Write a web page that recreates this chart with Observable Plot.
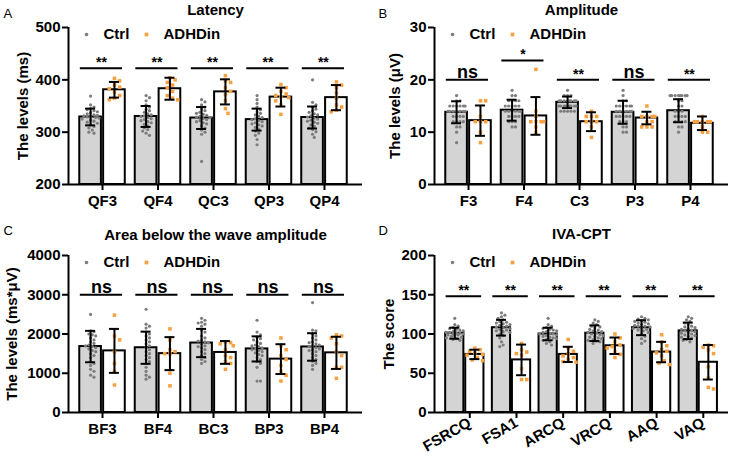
<!DOCTYPE html>
<html><head><meta charset="utf-8">
<script src="https://cdn.jsdelivr.net/npm/d3@7"></script>
<script src="https://cdn.jsdelivr.net/npm/@observablehq/plot@0.6"></script>
<style>
body{margin:0;background:#fff;}
#wrap{position:relative;width:731px;height:460px;overflow:hidden;background:#fff;}
.panel{position:absolute;}
.panel svg{overflow:visible;}
</style></head><body><div id="wrap"></div>
<script>
const groups = ["Ctrl", "ADHDin"];

// ---------- Panel A: Latency ----------
const catsA = ["QF3", "QF4", "QC3", "QP3", "QP4"];
const meanCtrlA = [329, 330, 327, 324, 328];
const sdCtrlA = [16, 20, 21, 21, 21];
const meanAdhdA = [381, 383, 377, 367, 366];
const sdAdhdA = [15, 21, 24, 18, 24];
const sigA = ["**", "**", "**", "**", "**"];
const sigYA = [422, 422, 422, 422, 422];
const yTicksA = [200, 300, 400, 500];
const ptsCtrlA = [
  [369,352,348,345,343,341,339,337,335,333,332,331,330,329,328,327,325,323,321,319,317,314,311,308,304,300,298],
  [370,366,360,352,348,344,341,338,335,333,331,330,328,326,324,322,320,318,315,312,308,305,302,298,294],
  [362,358,352,348,344,341,338,336,334,332,330,329,328,326,324,322,320,318,316,312,308,304,300,296,244],
  [370,362,355,348,343,339,336,333,330,328,326,324,322,320,318,316,314,312,309,306,302,298,294,286,276],
  [400,357,352,348,344,341,338,335,333,331,329,327,325,323,321,319,317,314,311,308,305,301,296,290]
];
const ptsAdhdA = [
  [403,398,390,386,383,377,370,365,362],
  [404,400,395,390,385,378,370,365,362],
  [408,398,395,385,378,372,360,345,336],
  [391,385,378,373,370,368,366,360,352,334],
  [396,390,385,375,365,352,348,342,339]
];

// ---------- Panel B: Amplitude ----------
const catsB = ["F3", "F4", "C3", "P3", "P4"];
const meanCtrlB = [13.8, 14.2, 15.7, 13.8, 14.1];
const sdCtrlB = [2.1, 2.0, 1.1, 2.2, 2.2];
const meanAdhdB = [12.2, 13.1, 12.0, 12.7, 11.7];
const sdAdhdB = [2.9, 3.6, 1.8, 1.2, 1.3];
const sigB = ["ns", "*", "**", "ns", "**"];
const sigYB = [20, 23.7, 20, 20, 20];
const yTicksB = [0, 10, 20, 30];
const ptsCtrlB = [
  [17,16,16,15,15,15,15,15,15,14,14,14,14,14,14,14,13,13,13,13,12,12,12,12,11,11,10,8],
  [18,17,17,16,16,16,16,15,15,15,15,15,14,14,14,14,14,14,13,13,13,13,12,12,12,11,11],
  [18,17,17,17,16,16,16,16,16,16,16,16,15,15,15,15,15,15,15,15,15,14,14,14,14,14],
  [18,17,16,16,15,15,15,15,15,15,14,14,14,14,14,14,13,13,13,13,13,12,12,12,11,11,10,10],
  [17,17,17,17,17,17,17,17,16,16,15,15,14,14,14,13,13,13,13,12,12,12,12,11,11,10]
];
const ptsAdhdB = [
  [16,16,13,12,12,12,10,8],
  [22,14,13,12,12,12,12,11,10],
  [14,13,13,13,12,12,12,11,9],
  [15,13,13,13,13,12,12,11,11,11],
  [13,12,12,12,12,12,11,10,10]
];

// ---------- Panel C: Area below the wave amplitude ----------
const catsC = ["BF3", "BF4", "BC3", "BP3", "BP4"];
const meanCtrlC = [1680, 1650, 1770, 1620, 1670];
const sdCtrlC = [400, 410, 360, 320, 350];
const meanAdhdC = [1570, 1500, 1530, 1360, 1520];
const sdAdhdC = [560, 420, 290, 380, 410];
const sigC = ["ns", "ns", "ns", "ns", "ns"];
const sigYC = [3000, 3000, 3000, 3000, 3000];
const yTicksC = [0, 1000, 2000, 3000, 4000];
const ptsCtrlC = [
  [2500,2080,2060,2000,1980,1950,1900,1850,1800,1760,1720,1700,1680,1650,1620,1580,1550,1500,1450,1400,1300,1250,1200,1100,1050,950,900],
  [2630,2250,2200,2150,2050,2000,1950,1900,1850,1800,1750,1700,1650,1600,1550,1500,1450,1400,1350,1300,1250,1150,1050,950,900,850],
  [2400,2350,2300,2280,2250,2200,2100,2050,1950,1900,1850,1820,1800,1780,1750,1700,1680,1650,1600,1550,1500,1450,1400,1350,1300,1250],
  [2350,2050,1980,1920,1880,1850,1800,1760,1720,1700,1680,1650,1620,1600,1580,1550,1520,1480,1450,1400,1350,1300,1250,1150,800,800],
  [2800,2100,2080,2000,1950,1900,1850,1800,1780,1750,1720,1700,1680,1650,1620,1600,1580,1550,1500,1450,1400,1350,1300,1250,1200,1100]
];
const ptsAdhdC = [
  [2480,1950,1850,1550,1250,1050,700],
  [2130,1850,1600,1550,1500,1500,1000,680],
  [1800,1780,1750,1700,1600,1450,1400,1300,1250,1100],
  [1900,1700,1600,1450,1350,1200,1050,950,800],
  [1980,1950,1900,1750,1550,1450,1150,1150,870]
];

// ---------- Panel D: IVA-CPT ----------
const catsD = ["FSRCQ", "FSA1", "ARCQ", "VRCQ", "AAQ", "VAQ"];
const meanCtrlD = [101, 108, 100, 101, 108, 104];
const sdCtrlD = [7, 10, 8, 10, 9.5, 10.5];
const meanAdhdD = [74, 67, 74, 85, 77, 64];
const sdAdhdD = [6, 19.5, 9.7, 10.5, 13, 22];
const sigD = ["**", "**", "**", "**", "**", "**"];
const sigYD = [148, 148, 148, 148, 148, 148];
const yTicksD = [0, 50, 100, 150, 200];
const ptsCtrlD = [
  [120,112,110,108,107,106,105,104,103,102,102,101,101,100,100,99,99,98,97,96,95,94,93,92],
  [127,124,122,120,118,116,115,114,113,112,111,110,109,108,107,106,105,104,103,102,100,98,95,90,86,84],
  [120,112,110,108,107,106,105,104,103,102,101,100,100,99,98,97,96,95,94,93,92,90,88,86],
  [118,116,114,112,110,109,108,106,105,104,103,102,101,100,99,98,97,96,95,94,93,92,91,90,88],
  [122,120,119,118,117,116,115,114,113,112,111,110,110,109,108,107,106,105,104,102,100,97,94,91,88],
  [122,120,118,116,114,112,110,109,108,107,106,105,104,103,102,101,100,99,98,97,96,95,93,92,90]
];
const ptsAdhdD = [
  [82,80,78,76,74,73,70,67,66],
  [88,80,77,75,73,56,42,42],
  [93,82,78,75,72,70,68,65,64],
  [100,95,90,86,84,82,78,74,70],
  [99,90,85,80,78,76,72,66,63,61],
  [86,85,83,80,75,58,44,32,30]
];

const panels = [
  {letter:"A", title:"Latency", ylabel:"The levels (ms)", cats:catsA, mC:meanCtrlA, sC:sdCtrlA, mA:meanAdhdA, sA:sdAdhdA, pC:ptsCtrlA, pA:ptsAdhdA, sig:sigA, sigY:sigYA, yTicks:yTicksA, left:0, top:0, xDom:[-0.613,4.685], ylabDx:-45.5, titleDy:-17, letterDy:-13.5, letterDx:-65},
  {letter:"B", title:"Amplitude", ylabel:"The levels (\u03bcV)", cats:catsB, mC:meanCtrlB, sC:sdCtrlB, mA:meanAdhdB, sA:sdAdhdB, pC:ptsCtrlB, pA:ptsAdhdB, sig:sigB, sigY:sigYB, yTicks:yTicksB, left:366, top:0, xDom:[-0.613,4.685], ylabDx:-39, titleDy:-17, letterDy:-13.5, letterDx:-56},
  {letter:"C", title:"Area below the wave amplitude", ylabel:"The levels (ms*\u03bcV)", cats:catsC, mC:meanCtrlC, sC:sdCtrlC, mA:meanAdhdC, sA:sdAdhdC, pC:ptsCtrlC, pA:ptsAdhdC, sig:sigC, sigY:sigYC, yTicks:yTicksC, left:0, top:228, xDom:[-0.613,4.685], ylabDx:-56, titleDy:-20, letterDy:-25, letterDx:-65},
  {letter:"D", title:"IVA-CPT", ylabel:"The score", cats:catsD, mC:meanCtrlD, sC:sdCtrlD, mA:meanAdhdD, sA:sdAdhdD, pC:ptsCtrlD, pA:ptsAdhdD, sig:sigD, sigY:sigYD, yTicks:yTicksD, left:366, top:228, xDom:[-0.649,5.647], ylabDx:-45.5, titleDy:-21, letterDy:-25, letterDx:-56, rotate:-30}
];

const GRAY_FILL = "#d4d4d4", GRAY_DOT = "#7d7d7d", ORANGE = "#f7a140";

function swarm(vals, pxPerY, d, maxSpread) {
  const order = vals.map((v, k) => k).sort((a, b) => vals[b] - vals[a]);
  const placed = [], out = new Array(vals.length);
  for (const k of order) {
    const py = vals[k] * pxPerY;
    let best = 0, bestScore = -Infinity;
    for (let j = 0; j < 80; j++) {
      const c = (j % 2 ? 1 : -1) * Math.ceil(j / 2) * d * 0.5;
      if (Math.abs(c) > maxSpread) break;
      let minD = Infinity;
      for (const q of placed) minD = Math.min(minD, Math.hypot(q.px - c, q.py - py));
      if (minD >= d) { best = c; bestScore = Infinity; break; }
      if (minD > bestScore) { bestScore = minD; best = c; }
    }
    placed.push({px: best, py});
    out[k] = best;
  }
  return out;
}

function drawPanel(cfg) {
  const W = 365, H = 230, mL = 68, mR = 3, mT = 27, mB = 46;
  const yDom = [cfg.yTicks[0], cfg.yTicks[cfg.yTicks.length - 1]];
  const pxPerX = (W - mL - mR) / (cfg.xDom[1] - cfg.xDom[0]);
  const pxPerY = (H - mT - mB) / (yDom[1] - yDom[0]);
  const off = {Ctrl: -0.215, ADHDin: 0.215}, half = 0.195, cap = 5 / pxPerX;
  const bars = [], errs = [], dots = [], sigs = [];
  cfg.cats.forEach((c, i) => {
    [["Ctrl", cfg.mC[i], cfg.sC[i], cfg.pC[i]], ["ADHDin", cfg.mA[i], cfg.sA[i], cfg.pA[i]]].forEach(([g, m, s, pts]) => {
      const cx = i + off[g];
      bars.push({g, x1: cx - half, x2: cx + half, y1: yDom[0], y2: m});
      errs.push({x: cx, lo: m - s, hi: m + s, x1: cx - cap, x2: cx + cap});
      const d = g === "Ctrl" ? 3.4 : 5.2;
      const offs = swarm(pts, pxPerY, d, 10);
      pts.forEach((v, k) => dots.push({g, x: cx + offs[k] / pxPerX, y: v}));
    });
    sigs.push({x1: i - 0.40, x2: i + 0.36, xm: i - 0.02, y: cfg.sigY[i], t: cfg.sig[i]});
  });
  const ctrlDots = dots.filter(d => d.g === "Ctrl"), adhdDots = dots.filter(d => d.g === "ADHDin");
  const sigStars = sigs.filter(s => s.t !== "ns"), sigNs = sigs.filter(s => s.t === "ns");

  const marks = [
    Plot.rect(bars, {x1: "x1", x2: "x2", y1: "y1", y2: "y2", fill: d => d.g === "Ctrl" ? GRAY_FILL : "white", stroke: "black", strokeWidth: 2}),
    Plot.dot(ctrlDots, {x: "x", y: "y", r: 1.6, fill: GRAY_DOT}),
    Plot.dot(adhdDots, {x: "x", y: "y", r: 2, symbol: "square", fill: ORANGE}),
    Plot.ruleX(errs, {x: "x", y1: "lo", y2: "hi", stroke: "black", strokeWidth: 2}),
    Plot.ruleY(errs, {x1: "x1", x2: "x2", y: "lo", stroke: "black", strokeWidth: 2}),
    Plot.ruleY(errs, {x1: "x1", x2: "x2", y: "hi", stroke: "black", strokeWidth: 2}),
    Plot.ruleY(sigs, {x1: "x1", x2: "x2", y: "y", stroke: "black", strokeWidth: 2}),
    Plot.text(sigStars, {x: "xm", y: "y", text: "t", lineAnchor: "bottom", dy: -1, fontSize: 14}),
    Plot.text(sigNs, {x: "xm", y: "y", text: "t", lineAnchor: "bottom", dy: -2, fontSize: 18}),
    Plot.ruleX([cfg.xDom[0]], {strokeWidth: 2}),
    Plot.ruleY([yDom[0]], {strokeWidth: 2}),
    Plot.axisY({ticks: cfg.yTicks, tickFormat: d => String(d), tickSize: 6, tickPadding: 2, strokeWidth: 2, label: null}),
    Plot.axisX(cfg.rotate ? {ticks: d3.range(cfg.cats.length), tickFormat: i => cfg.cats[i], tickSize: 6, tickPadding: 3, strokeWidth: 2, label: null, tickRotate: cfg.rotate, dx: 5}
                          : {ticks: d3.range(cfg.cats.length), tickFormat: i => cfg.cats[i], tickSize: 6, tickPadding: 5, strokeWidth: 2, label: null}),
    Plot.text([cfg.ylabel], {text: d => d, frameAnchor: "left", dx: cfg.ylabDx, rotate: -90, lineAnchor: "middle", textAnchor: "middle", fontSize: 15}),
    Plot.text([cfg.title], {text: d => d, frameAnchor: "top", dy: cfg.titleDy, lineAnchor: "middle", fontSize: 15}),
    Plot.text([cfg.letter], {text: d => d, frameAnchor: "top-left", dx: cfg.letterDx, dy: cfg.letterDy, textAnchor: "start", lineAnchor: "middle", fontSize: 13, fontWeight: "normal"}),
    Plot.dot([groups[0]], {frameAnchor: "top-left", dx: 18, dy: 7, r: 1.8, fill: GRAY_DOT}),
    Plot.text([groups[0]], {text: d => d, frameAnchor: "top-left", dx: 35, dy: 7, textAnchor: "start", lineAnchor: "middle", fontSize: 15}),
    Plot.dot([groups[1]], {frameAnchor: "top-left", dx: 78, dy: 7, r: 2.1, symbol: "square", fill: ORANGE}),
    Plot.text([groups[1]], {text: d => d, frameAnchor: "top-left", dx: 95, dy: 7, textAnchor: "start", lineAnchor: "middle", fontSize: 15})
  ];

  const svg = Plot.plot({
    width: W, height: H, marginLeft: mL, marginRight: mR, marginTop: mT, marginBottom: mB,
    x: {domain: cfg.xDom}, y: {domain: yDom},
    style: {fontFamily: "'Liberation Sans', Arial, sans-serif", fontSize: "15px", fontWeight: "bold", background: "transparent", overflow: "visible", color: "#000"},
    marks
  });
  const div = document.createElement("div");
  div.className = "panel";
  div.style.left = cfg.left + "px";
  div.style.top = cfg.top + "px";
  div.appendChild(svg);
  document.getElementById("wrap").appendChild(div);
}

panels.forEach(drawPanel);
</script></body></html>
